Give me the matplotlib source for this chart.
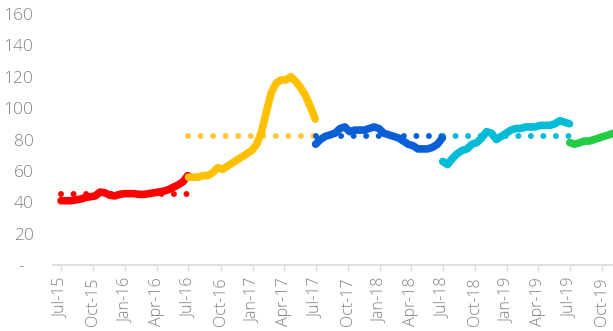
import numpy as np
import pandas as pd
import matplotlib
matplotlib.use("Agg")
import matplotlib.pyplot as plt

plt.rcParams['font.family'] = ['Open Sans', 'DejaVu Sans']

# values read every two weeks, one list per year
red_start = "2015-07-01"
red_vals = [41, 41, 41, 41.5, 42, 43, 43.5, 44, 46.5, 46, 44.5, 44, 45, 45.5,
            45.5, 45.5, 45, 45, 45.5, 46, 46.5, 47, 48, 49.5, 51, 53, 57]
yellow_start = "2016-07-01"
yellow_vals = [56, 56, 56, 57, 57, 59, 62, 61, 63, 65, 67, 69, 71, 73,
               77, 85, 98, 110, 116, 118, 118, 120, 117, 113, 108, 101, 93]
blue_start = "2017-07-01"
blue_vals = [77, 80, 82, 83, 84, 87, 88, 85, 86, 86, 86, 87, 88, 87,
             84, 83, 82, 81, 79, 77, 76, 74, 74, 74, 75, 77, 81]
cyan_start = "2018-07-01"
cyan_vals = [66, 64, 68, 71, 73, 74, 77, 78, 81, 85, 84, 80, 82, 84,
             86, 87, 87, 88, 88, 88, 89, 89, 89, 90, 92, 91, 90]
green_start = "2019-07-01"
green_vals = [78, 77, 78, 79, 79, 80, 81, 82, 83, 84]

# yearly averages (dotted)
avg_vals = [45, 82, 82, 82]
avg_starts = ["2015-07-01", "2016-07-01", "2017-07-01", "2018-07-01"]

colors = ["#ff0000", "#ffc000", "#0b5fd6", "#00bcd6", "#22cc44"]
avg_colors = ["#ff0000", "#ffc83a", "#0b5fd6", "#00bcd6"]

tick_labels = ["Jul-15", "Oct-15", "Jan-16", "Apr-16", "Jul-16", "Oct-16", "Jan-17", "Apr-17",
               "Jul-17", "Oct-17", "Jan-18", "Apr-18", "Jul-18", "Oct-18", "Jan-19", "Apr-19",
               "Jul-19", "Oct-19"]

fig = plt.figure(figsize=(6.13, 3.31), dpi=100)
ax = fig.add_axes([53/613, 1 - 265/331, 1 - 53/613, (265 - 14)/331])

# average dotted lines first so the series sit on top
for s, v, c in zip(avg_starts, avg_vals, avg_colors):
    d0 = pd.Timestamp(s)
    d1 = d0 + pd.DateOffset(years=1)
    ax.plot([d0, d1], [v, v], color=c, lw=4.3, linestyle=(0, (0.001, 2.1)),
            dash_capstyle='round')

series = [(red_start, red_vals), (yellow_start, yellow_vals), (blue_start, blue_vals),
          (cyan_start, cyan_vals), (green_start, green_vals)]
for (s, vals), c in zip(series, colors):
    dates = pd.date_range(s, periods=len(vals), freq="14D")
    ax.plot(dates, vals, color=c, lw=5.5, solid_capstyle='round', solid_joinstyle='round')

ax.set_ylim(0, 160)
ax.set_xlim(pd.Timestamp("2015-06-08"), pd.Timestamp("2019-11-02"))

ticks = pd.date_range("2015-07-01", periods=len(tick_labels), freq="3MS")
ax.set_xticks(ticks)
ax.set_xticklabels(tick_labels, rotation=90)
ax.set_yticks(np.arange(0, 161, 20))
ax.set_yticklabels(["-  "] + [str(v) for v in range(20, 161, 20)])

for sp in ["top", "right", "left"]:
    ax.spines[sp].set_visible(False)
ax.spines["bottom"].set_color("#d9d9d9")
ax.spines["bottom"].set_linewidth(1.2)
ax.tick_params(axis="x", colors="#808080", length=4, width=1, color="#d9d9d9",
               labelsize=11.5, pad=5)
ax.tick_params(axis="y", colors="#808080", length=0, labelsize=12.5, pad=14)
for t in ax.get_xticklabels() + ax.get_yticklabels():
    t.set_fontweight("light")

fig.savefig("out.png", dpi=100)
